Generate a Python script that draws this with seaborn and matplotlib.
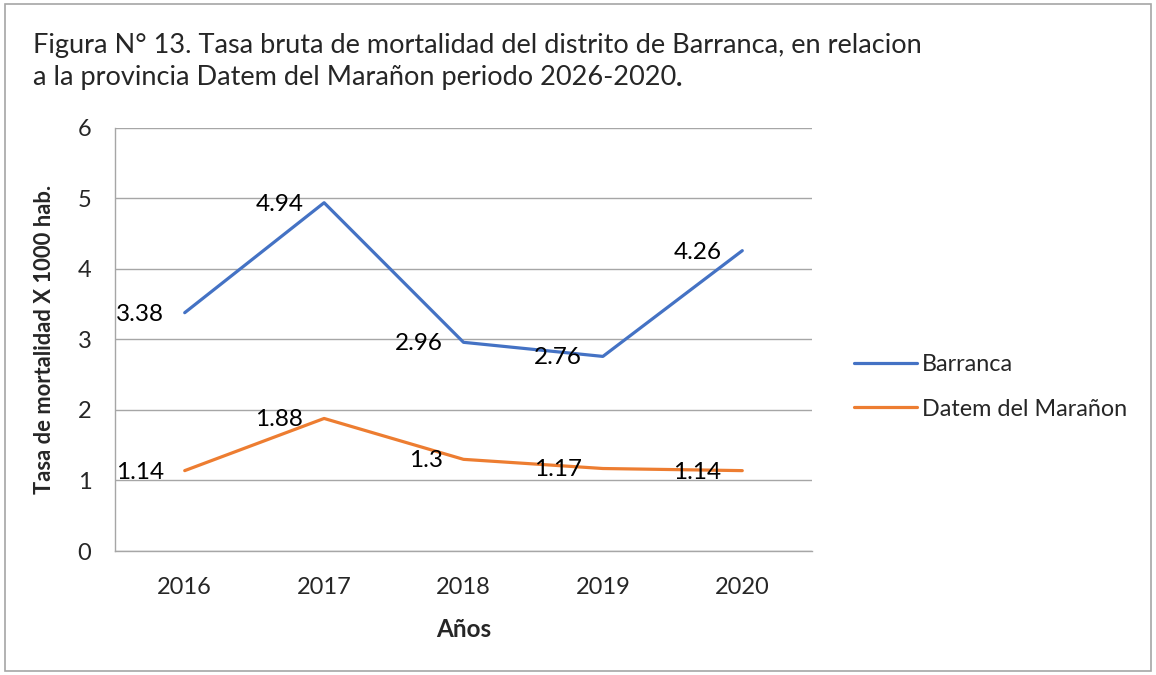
import matplotlib
matplotlib.use("Agg")
import matplotlib.pyplot as plt
import seaborn as sns
import pandas as pd
from matplotlib.patches import Rectangle

# values
years = ["2016", "2017", "2018", "2019", "2020"]
barranca = [3.38, 4.94, 2.96, 2.76, 4.26]
datem = [1.14, 1.88, 1.3, 1.17, 1.14]
series_names = ["Barranca", "Datem del Marañon"]
colors = ["#4472C4", "#ED7D31"]

df = pd.DataFrame({
    "Año": years * 2,
    "Tasa": barranca + datem,
    "Serie": [series_names[0]] * len(years) + [series_names[1]] * len(years),
})

sns.set_style("white")
plt.rcParams["font.family"] = ["Lato", "DejaVu Sans"]

fig = plt.figure(figsize=(11.56, 6.75), dpi=100)
ax = fig.add_axes([0.0995, 0.1837, 0.6029, 0.6267])

sns.lineplot(data=df, x="Año", y="Tasa", hue="Serie", palette=colors,
             linewidth=2.3, ax=ax, sort=False)

# data labels, placed to the left of each point like Excel does
for vals in (barranca, datem):
    for i, v in enumerate(vals):
        ax.annotate(f"{v:g}", (i, v), xytext=(-15, -1), textcoords="offset points",
                    ha="right", va="center", fontsize=17.5, color="black")

ax.set_ylim(0, 6)
ax.set_xlim(-0.5, 4.5)
ax.set_yticks(range(0, 7))
ax.yaxis.grid(True, color="#A6A6A6", linewidth=1)
ax.set_axisbelow(True)
for s in ["top", "right"]:
    ax.spines[s].set_visible(False)
for s in ["left", "bottom"]:
    ax.spines[s].set_color("#A6A6A6")
    ax.spines[s].set_linewidth(1)

ax.set_xticks(range(5))
ax.set_xticks([x - 0.5 for x in range(6)], minor=True)
ax.tick_params(axis="x", which="major", length=0, labelsize=17, pad=19)
ax.tick_params(axis="x", which="minor", length=7, color="#A6A6A6", width=1)
ax.tick_params(axis="y", length=7, color="#A6A6A6", width=1, labelsize=17, pad=10)

ax.set_xlabel("Años", fontsize=17.5, fontweight="bold", labelpad=14)
ax.set_ylabel("Tasa de mortalidad X 1000 hab.", fontsize=15.8, fontweight="bold", labelpad=16)

ax.legend(title=None, frameon=False, loc="center left", bbox_to_anchor=(1.03, 0.388),
          fontsize=16.8, handlelength=2.7, handletextpad=0.2, labelspacing=1.0)

fig.text(0.0285, 0.933, "Figura N° 13. Tasa bruta de mortalidad del distrito de Barranca, en relacion",
         fontsize=19.5, va="center", ha="left")
t2 = fig.text(0.0285, 0.885, "a la provincia Datem del Marañon periodo 2026-2020",
              fontsize=19.5, va="center", ha="left")
ax.annotate(".", xy=(1, 0), xycoords=t2, va="bottom", ha="left",
            fontsize=19.5, fontweight="bold", annotation_clip=False)

fig.patches.append(Rectangle((0.004, 0.006), 0.992, 0.988, transform=fig.transFigure,
                             fill=False, edgecolor="#A6A6A6", linewidth=1.2))

fig.savefig("out.png", dpi=100)
